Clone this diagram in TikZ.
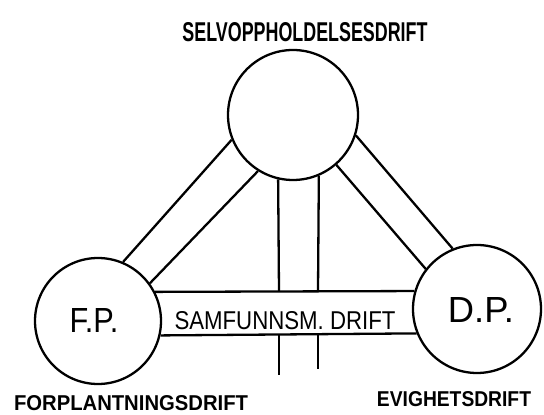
\documentclass[tikz,border=0pt]{standalone}
\usepackage{fontspec}
\setmainfont{Liberation Sans}
\usepackage{graphicx}
\begin{document}
\begin{tikzpicture}[x=1pt,y=1pt,line width=2.3pt,
  drive/.style={circle,draw,inner sep=0pt},
  lbl/.style={inner sep=0pt,font=\bfseries},
  biglbl/.style={inner sep=0pt}]
\useasboundingbox (0,0) rectangle (544,415);
% circles
\node[drive,minimum size=130pt] (sel) at (293,300) {};
\node[drive,minimum size=126pt] (fp) at (98,94) {};
\node[drive,minimum size=128pt] (dp) at (477,106) {};
% labels
\node[lbl] (tsel) at (305,383) {\resizebox{245pt}{19pt}{SELVOPPHOLDELSESDRIFT}};
\node[biglbl] (tfp) at (94,95) {\resizebox{49pt}{24pt}{F.P.}};
\node[biglbl] (tdp) at (481,105) {\resizebox{66pt}{25pt}{D.P.}};
\node[biglbl] (tsam) at (285,94) {\resizebox{221pt}{18pt}{SAMFUNNSM. DRIFT}};
\node[lbl] (tfor) at (131,12) {\resizebox{234pt}{15pt}{FORPLANTNINGSDRIFT}};
\node[lbl] (tevi) at (454,16) {\resizebox{154pt}{15pt}{EVIGHETSDRIFT}};
% bands
\draw (sel.202) -- (fp.67);
\draw (sel.238) -- (fp.36);
\draw (sel.342) -- (dp.112);
\draw (sel.311) -- (dp.142);
\draw (fp.27) -- (dp.164);
\draw (fp.-13) -- (dp.202);
% vertical band
\coordinate (v1t) at (279,123.5);
\coordinate (v2t) at (318,123.5);
\coordinate (v1b) at (279,80);
\coordinate (v2b) at (318,80.5);
\coordinate (v1e) at (279,40);
\coordinate (v2e) at (318,46);
\draw (sel.257) -- (v1t);
\draw (sel.293) -- (v2t);
\draw (v1b) -- (v1e);
\draw (v2b) -- (v2e);
\end{tikzpicture}
\end{document}
